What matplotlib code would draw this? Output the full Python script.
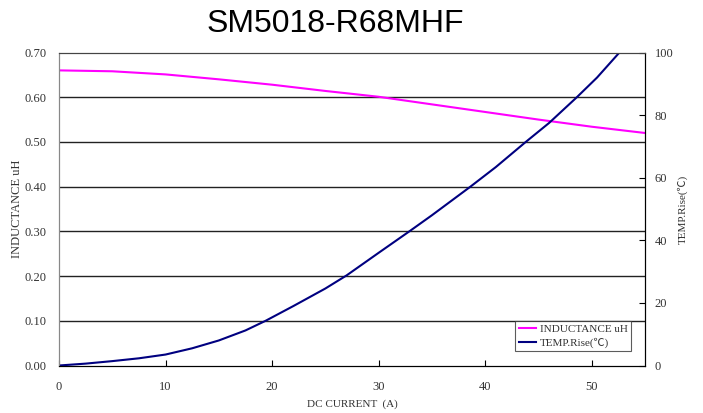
import matplotlib
matplotlib.use("Agg")
import matplotlib.pyplot as plt

# inductance curve (uH) vs DC current (A)
ind_current = [0, 5, 10, 15, 20, 25, 30, 35, 40, 45, 50, 55]
inductance = [0.660, 0.658, 0.651, 0.640, 0.628, 0.614, 0.601, 0.584, 0.567, 0.550, 0.534, 0.520]

# temperature rise (C) vs DC current (A)
temp_current = [0, 2.5, 5, 7.5, 10, 12.5, 15, 17.5, 19.4, 22, 25, 27, 30, 32.9, 35, 38.6, 41, 43.8, 46, 48.6, 50.5, 52.6]
temp_rise = [0, 0.6, 1.4, 2.3, 3.5, 5.5, 8.0, 11.2, 14.3, 19.0, 24.6, 28.8, 36.0, 42.9, 48.0, 57.1, 63.4, 71.4, 77.5, 85.7, 92.0, 100.0]

serif = ["Liberation Serif", "Noto Sans CJK JP", "DejaVu Sans"]
plt.rcParams["font.family"] = serif

fig = plt.figure(figsize=(7.03, 4.13), dpi=100)
ax = fig.add_axes([59 / 703, 1 - 365.5 / 413, 586 / 703, 313 / 413])
ax2 = ax.twinx()

l1, = ax.plot(ind_current, inductance, color="#FF00FF", lw=1.5, label="INDUCTANCE uH")
l2, = ax2.plot(temp_current, temp_rise, color="#000080", lw=1.5, label="TEMP.Rise(℃)")

ax.set_xlim(0, 55)
ax.set_ylim(0, 0.70)
ax2.set_ylim(0, 100)
ax.set_xticks([0, 10, 20, 30, 40, 50])
ax.set_yticks([0.0, 0.1, 0.2, 0.3, 0.4, 0.5, 0.6, 0.7])
ax.set_yticklabels([f"{v:.2f}" for v in ax.get_yticks()])
ax2.set_yticks([0, 20, 40, 60, 80, 100])

for y in [0.1, 0.2, 0.3, 0.4, 0.5, 0.6]:
    ax.axhline(y, color="#222222", lw=1.0, zorder=0)

ax.tick_params(axis="x", direction="in", length=4, labelsize=9, labelcolor="#333333", pad=11)
ax.tick_params(axis="y", length=0, labelsize=9, labelcolor="#333333", pad=9)
ax2.tick_params(axis="y", direction="in", length=4, labelsize=9, labelcolor="#333333", pad=7)

ax.spines["top"].set_color("#444444")
ax2.spines["top"].set_color("#444444")
ax.spines["left"].set_color("#888888")
ax2.spines["left"].set_color("#888888")

ax.set_xlabel("DC CURRENT  (A)", fontsize=8, color="#333333", labelpad=5)
ax.set_ylabel("INDUCTANCE uH", fontsize=9, color="#333333", labelpad=1)
ax2.set_ylabel("TEMP.Rise(℃)", fontsize=8, color="#333333", labelpad=2.5)

fig.text(335 / 703, 1 - 32.5 / 413, "SM5018-R68MHF", fontsize=23, family="Liberation Sans",
         ha="center", va="baseline")

leg = ax2.legend(handles=[l1, l2], loc="lower right", bbox_to_anchor=(0.976, 0.046),
                 borderaxespad=0, fontsize=8, frameon=True, fancybox=False, edgecolor="#333333",
                 handlelength=1.6, handletextpad=0.3, borderpad=0.3, labelspacing=0.3)
leg.get_frame().set_linewidth(0.8)
for t in leg.get_texts():
    t.set_color("#333333")

fig.savefig("out.png", dpi=100)
